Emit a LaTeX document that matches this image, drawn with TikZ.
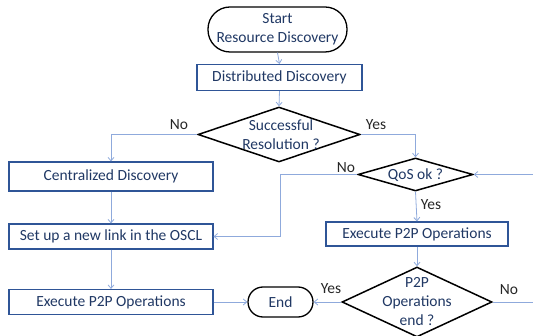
\documentclass[tikz,border=0pt]{standalone}
\usepackage{fontspec}
\setmainfont{Carlito}
\usetikzlibrary{shapes.geometric,arrows.meta}
\definecolor{txtblue}{HTML}{203864}
\definecolor{boxblue}{HTML}{2F5597}
\definecolor{linkblue}{HTML}{8FAADC}
\tikzset{
  every node/.style={font=\fontsize{15.5}{19}\selectfont},
  procbox/.style={draw=boxblue, line width=1.1pt, rectangle, inner sep=0pt, text=txtblue, align=center},
  termbox/.style={draw=black, line width=1.3pt, rectangle, rounded corners=14pt, inner sep=0pt, text=txtblue, align=center},
  decbox/.style={draw=black, line width=1.5pt, diamond, inner sep=0pt},
  dectext/.style={text=txtblue, align=center, inner sep=0pt},
  lbl/.style={text=black!85, inner sep=0pt},
  link/.style={draw=linkblue, line width=0.8pt},
  arr/.style={link, -{Straight Barb[length=3.5pt,width=6pt]}},
}
\begin{document}
\begin{tikzpicture}[x=1pt,y=-1pt]
\useasboundingbox (0,0) rectangle (533,336);
% nodes
\node[termbox, rounded corners=22pt, minimum width=139pt, minimum height=45pt] (start) at (277.5,29.5) {Start\\Resource Discovery};
\node[procbox, minimum width=165pt, minimum height=26pt] (dd) at (279.5,77.5) {Distributed Discovery};
\node[decbox, minimum width=162pt, minimum height=55pt] (d1) at (279,134.5) {};
\node[dectext] (d1t) at (281,134.5) {Successful\\Resolution ?};
\node[procbox, minimum width=204pt, minimum height=29pt] (cd) at (111,176.5) {Centralized Discovery};
\node[decbox, minimum width=115pt, minimum height=33pt] (qos) at (415.5,174.5) {};
\node[dectext] (qost) at (415.5,175) {QoS ok ?};
\node[procbox, minimum width=204pt, minimum height=25pt] (su) at (111,236.5) {Set up a new link in the OSCL};
\node[procbox, minimum width=182pt, minimum height=24pt] (ex2) at (417,234) {Execute P2P Operations};
\node[procbox, minimum width=204pt, minimum height=25pt] (ex1) at (111,302) {Execute P2P Operations};
\node[termbox, rounded corners=15pt, minimum width=65pt, minimum height=30pt] (end) at (280.5,302) {End};
\node[decbox, minimum width=150pt, minimum height=70pt] (d3) at (417,302) {};
\node[dectext] (d3t) at (417,302) {P2P\\Operations\\end ?};
% labels
\node[lbl] (l1) at (179,125) {No};
\node[lbl] (l2) at (376,125) {Yes};
\node[lbl] (l3) at (346,168) {No};
\node[lbl] (l4) at (431,205) {Yes};
\node[lbl] (l5) at (331,289) {Yes};
\node[lbl] (l6) at (509,290) {No};
% helper coordinates
\coordinate (c1) at (280,174.5);
\coordinate (r1) at (545,302);
\coordinate (r2) at (545,174.5);
% connectors
\draw[arr] (start.south) -- (dd.north);
\draw[arr] (dd.south) -- (d1.north);
\draw[arr] (d1.west) -| (cd.north);
\draw[arr] (d1.east) -| (qos.north);
\draw[arr] (cd.south) -- (su.north);
\draw[arr] (qos.west) -- (c1) |- (su.east);
\draw[arr] (su.south) -- (ex1.north);
\draw[arr] (ex1.east) -- (end.west);
\draw[arr] (qos.south) -- (ex2.north);
\draw[arr] (ex2.south) -- (d3.north);
\draw[arr] (d3.west) -- (end.east);
\draw[arr] (d3.east) -- (r1) -- (r2) -- (qos.east);
\end{tikzpicture}
\end{document}
